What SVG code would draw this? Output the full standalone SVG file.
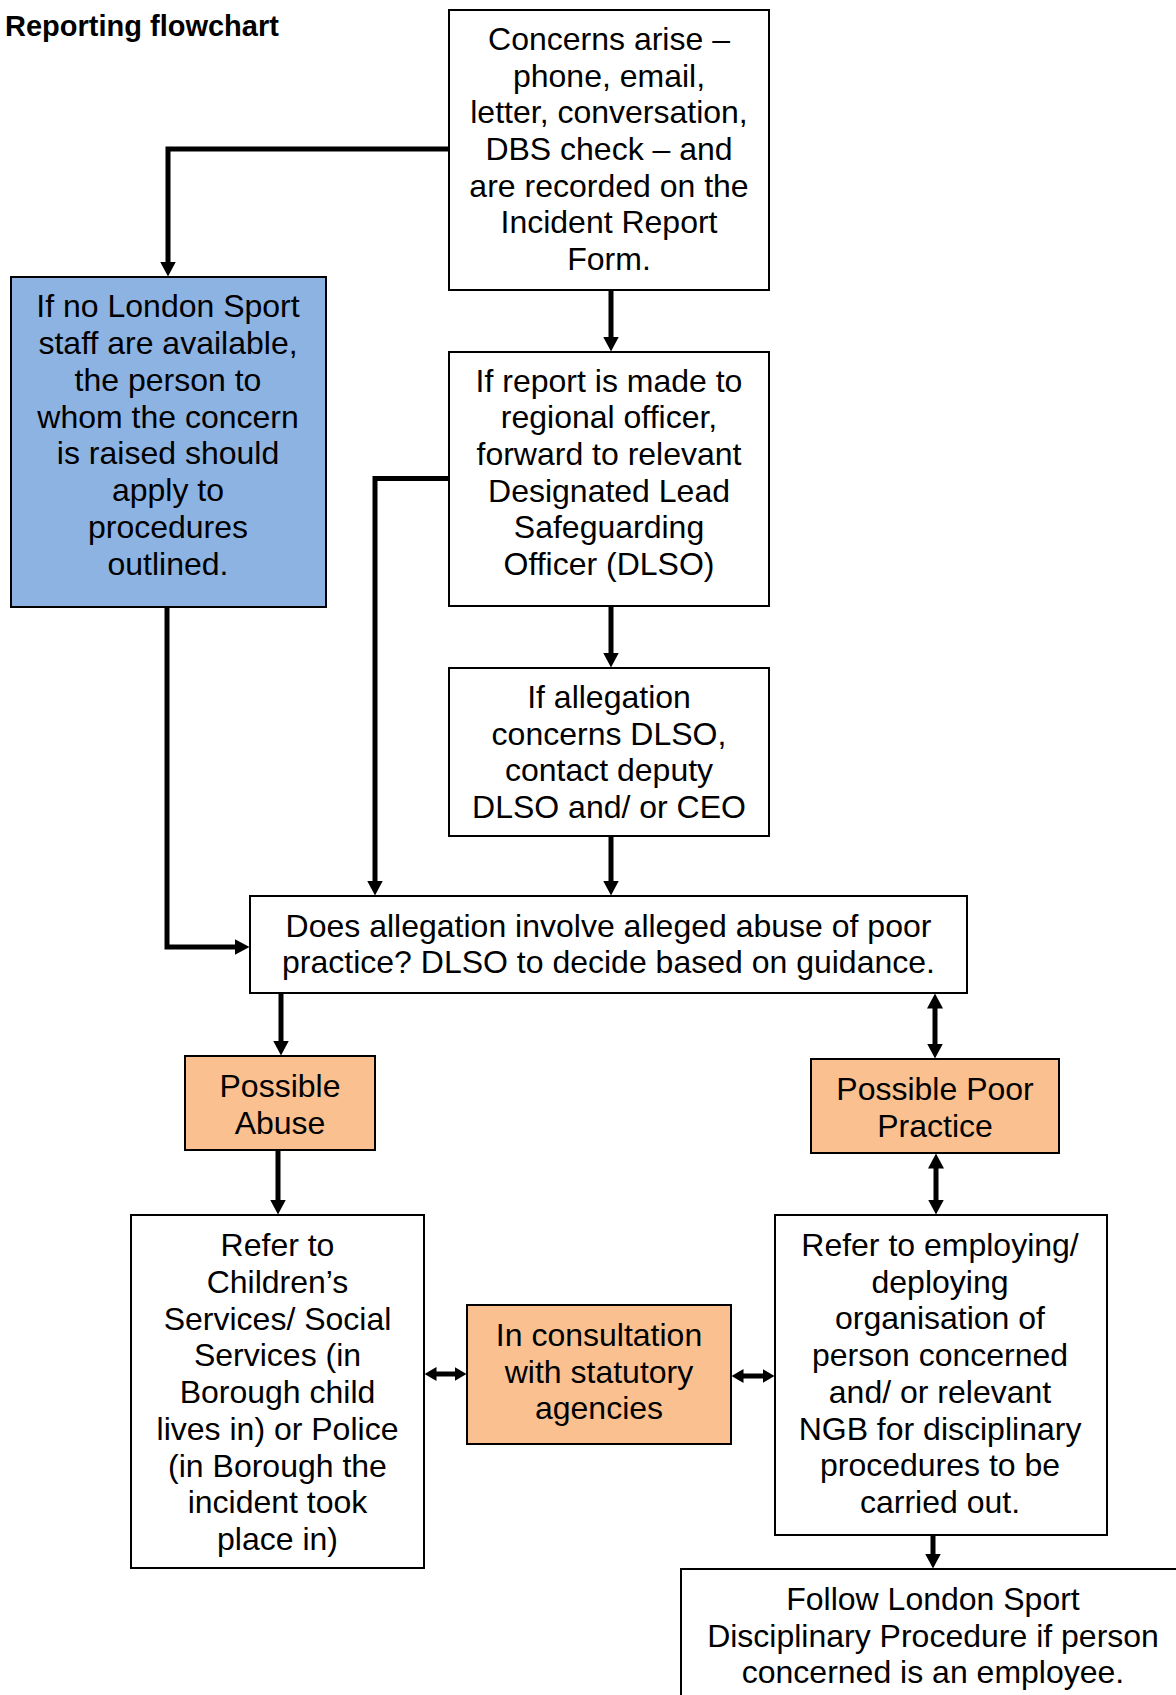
<svg xmlns="http://www.w3.org/2000/svg" width="1176" height="1695" viewBox="0 0 1176 1695">
<style>
.box{stroke:#000;stroke-width:2;fill:#fff}
.blue{fill:#8DB3E2}
.peach{fill:#FAC08F}
.t{font-family:"Liberation Sans",Arial,sans-serif;font-size:32px;fill:#000;text-anchor:middle}
.title{font-family:"Liberation Sans",Arial,sans-serif;font-size:29px;font-weight:bold;fill:#000}
.c{fill:none;stroke:#000;stroke-width:5}
.a{marker-end:url(#ah)}
.d{marker-start:url(#ah);marker-end:url(#ah)}
.s{marker-start:url(#ahs);marker-end:url(#ahs)}
</style>
<defs>
<marker id="ah" markerUnits="userSpaceOnUse" viewBox="0 0 15 16" markerWidth="15" markerHeight="16" refX="0.5" refY="8" orient="auto-start-reverse"><path d="M0,0 L15,8 L0,16 Z" fill="#000"/></marker>
<marker id="ahs" markerUnits="userSpaceOnUse" viewBox="0 0 12 14" markerWidth="12" markerHeight="14" refX="0.5" refY="7" orient="auto-start-reverse"><path d="M0,0 L12,7 L0,14 Z" fill="#000"/></marker>
</defs>
<rect width="1176" height="1695" fill="#fff"/>
<text class="title" x="5" y="36">Reporting flowchart</text>

<g id="connectors">
<path class="c a" d="M449,149 H168 V262"/>
<path class="c a" d="M611,290 V337"/>
<path class="c a" d="M449,478.5 H375 V881"/>
<path class="c a" d="M611,606 V653"/>
<path class="c a" d="M611,836 V881"/>
<path class="c a" d="M167,607 V947 H235"/>
<path class="c a" d="M281,993 V1041"/>
<path class="c d" d="M935,1008 V1044"/>
<path class="c a" d="M278,1150 V1200"/>
<path class="c d" d="M936,1168 V1200"/>
<path class="c s" d="M436,1374 H455"/>
<path class="c s" d="M743,1376 H763"/>
<path class="c a" d="M933,1535 V1554"/>
</g>

<g id="concerns">
<rect class="box" x="449" y="10" width="320" height="280"/>
<text class="t"><tspan x="609" y="50">Concerns arise –</tspan><tspan x="609" y="86.7">phone, email,</tspan><tspan x="609" y="123.3">letter, conversation,</tspan><tspan x="609" y="160">DBS check – and</tspan><tspan x="609" y="196.7">are recorded on the</tspan><tspan x="609" y="233.3">Incident Report</tspan><tspan x="609" y="270">Form.</tspan></text>
</g>

<g id="no-staff">
<rect class="box blue" x="11" y="277" width="315" height="330"/>
<text class="t"><tspan x="168" y="317">If no London Sport</tspan><tspan x="168" y="353.9">staff are available,</tspan><tspan x="168" y="390.7">the person to</tspan><tspan x="168" y="427.6">whom the concern</tspan><tspan x="168" y="464.4">is raised should</tspan><tspan x="168" y="501.3">apply to</tspan><tspan x="168" y="538.1">procedures</tspan><tspan x="168" y="575">outlined.</tspan></text>
</g>

<g id="regional">
<rect class="box" x="449" y="352" width="320" height="254"/>
<text class="t"><tspan x="609" y="391.7">If report is made to</tspan><tspan x="609" y="428.4">regional officer,</tspan><tspan x="609" y="465">forward to relevant</tspan><tspan x="609" y="501.7">Designated Lead</tspan><tspan x="609" y="538.4">Safeguarding</tspan><tspan x="609" y="575">Officer (DLSO)</tspan></text>
</g>

<g id="allegation-dlso">
<rect class="box" x="449" y="668" width="320" height="168"/>
<text class="t"><tspan x="609" y="708">If allegation</tspan><tspan x="609" y="744.7">concerns DLSO,</tspan><tspan x="609" y="781.3">contact deputy</tspan><tspan x="609" y="818">DLSO and/ or CEO</tspan></text>
</g>

<g id="decision">
<rect class="box" x="250" y="896" width="717" height="97"/>
<text class="t"><tspan x="608.5" y="936.7">Does allegation involve alleged abuse of poor</tspan><tspan x="608.5" y="972.7">practice? DLSO to decide based on guidance.</tspan></text>
</g>

<g id="possible-abuse">
<rect class="box peach" x="185" y="1056" width="190" height="94"/>
<text class="t"><tspan x="280" y="1097">Possible</tspan><tspan x="280" y="1134">Abuse</tspan></text>
</g>

<g id="possible-poor-practice">
<rect class="box peach" x="811" y="1059" width="248" height="94"/>
<text class="t"><tspan x="935" y="1100">Possible Poor</tspan><tspan x="935" y="1137">Practice</tspan></text>
</g>

<g id="childrens-services">
<rect class="box" x="131" y="1215" width="293" height="353"/>
<text class="t"><tspan x="277.5" y="1256">Refer to</tspan><tspan x="277.5" y="1292.75">Children’s</tspan><tspan x="277.5" y="1329.5">Services/ Social</tspan><tspan x="277.5" y="1366.25">Services (in</tspan><tspan x="277.5" y="1403">Borough child</tspan><tspan x="277.5" y="1439.75">lives in) or Police</tspan><tspan x="277.5" y="1476.5">(in Borough the</tspan><tspan x="277.5" y="1513.25">incident took</tspan><tspan x="277.5" y="1550">place in)</tspan></text>
</g>

<g id="consultation">
<rect class="box peach" x="467" y="1305" width="264" height="139"/>
<text class="t"><tspan x="599" y="1345.7">In consultation</tspan><tspan x="599" y="1382.5">with statutory</tspan><tspan x="599" y="1419">agencies</tspan></text>
</g>

<g id="employing-org">
<rect class="box" x="775" y="1215" width="332" height="320"/>
<text class="t"><tspan x="940" y="1256">Refer to employing/</tspan><tspan x="940" y="1292.7">deploying</tspan><tspan x="940" y="1329.4">organisation of</tspan><tspan x="940" y="1366.1">person concerned</tspan><tspan x="940" y="1402.9">and/ or relevant</tspan><tspan x="940" y="1439.6">NGB for disciplinary</tspan><tspan x="940" y="1476.3">procedures to be</tspan><tspan x="940" y="1513">carried out.</tspan></text>
</g>

<g id="follow-disciplinary">
<rect class="box" x="681" y="1569" width="520" height="160"/>
<text class="t"><tspan x="933" y="1610">Follow London Sport</tspan><tspan x="933" y="1646.7">Disciplinary Procedure if person</tspan><tspan x="933" y="1683">concerned is an employee.</tspan></text>
</g>
</svg>
